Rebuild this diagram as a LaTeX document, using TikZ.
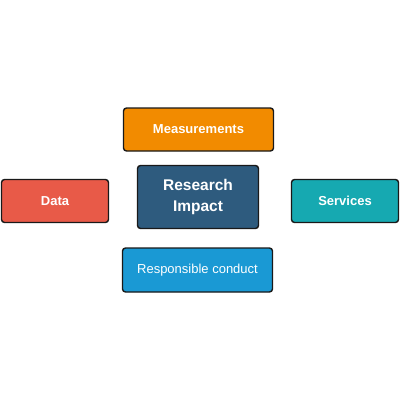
\documentclass[tikz,border=0pt]{standalone}
\usepackage{fontspec}
\setmainfont{Liberation Sans}
\definecolor{cOrange}{HTML}{F28B00}
\definecolor{cNavy}{HTML}{2E5B7E}
\definecolor{cRed}{HTML}{E85A48}
\definecolor{cTeal}{HTML}{16A9B1}
\definecolor{cBlue}{HTML}{1A99D4}
\tikzset{
  box/.style={draw=black!90, line width=1.4pt, rounded corners=3pt, text=white,
    inner sep=0pt, align=center, font=\fontsize{13}{15}\selectfont\bfseries},
}
\begin{document}
\begin{tikzpicture}[x=1pt,y=-1pt]
\useasboundingbox (0,0) rectangle (400,400);
\fill[white] (0,0) rectangle (400,400);
\node[box, fill=cOrange, minimum width=150pt, minimum height=43pt] (meas) at (198.5,129.5) {Measurements};
\node[box, fill=cNavy, minimum width=121pt, minimum height=63pt, font=\fontsize{15.5}{20.5}\selectfont\bfseries] (ri) at (198,197) {Research\\Impact};
\node[box, fill=cRed, minimum width=107pt, minimum height=43pt] (data) at (55,201) {Data};
\node[box, fill=cTeal, minimum width=107pt, minimum height=43pt] (serv) at (345,201) {Services};
\node[box, fill=cBlue, minimum width=150pt, minimum height=44pt, font=\fontsize{13}{15}\selectfont] (resp) at (197.5,270) {Responsible conduct};
\end{tikzpicture}
\end{document}
